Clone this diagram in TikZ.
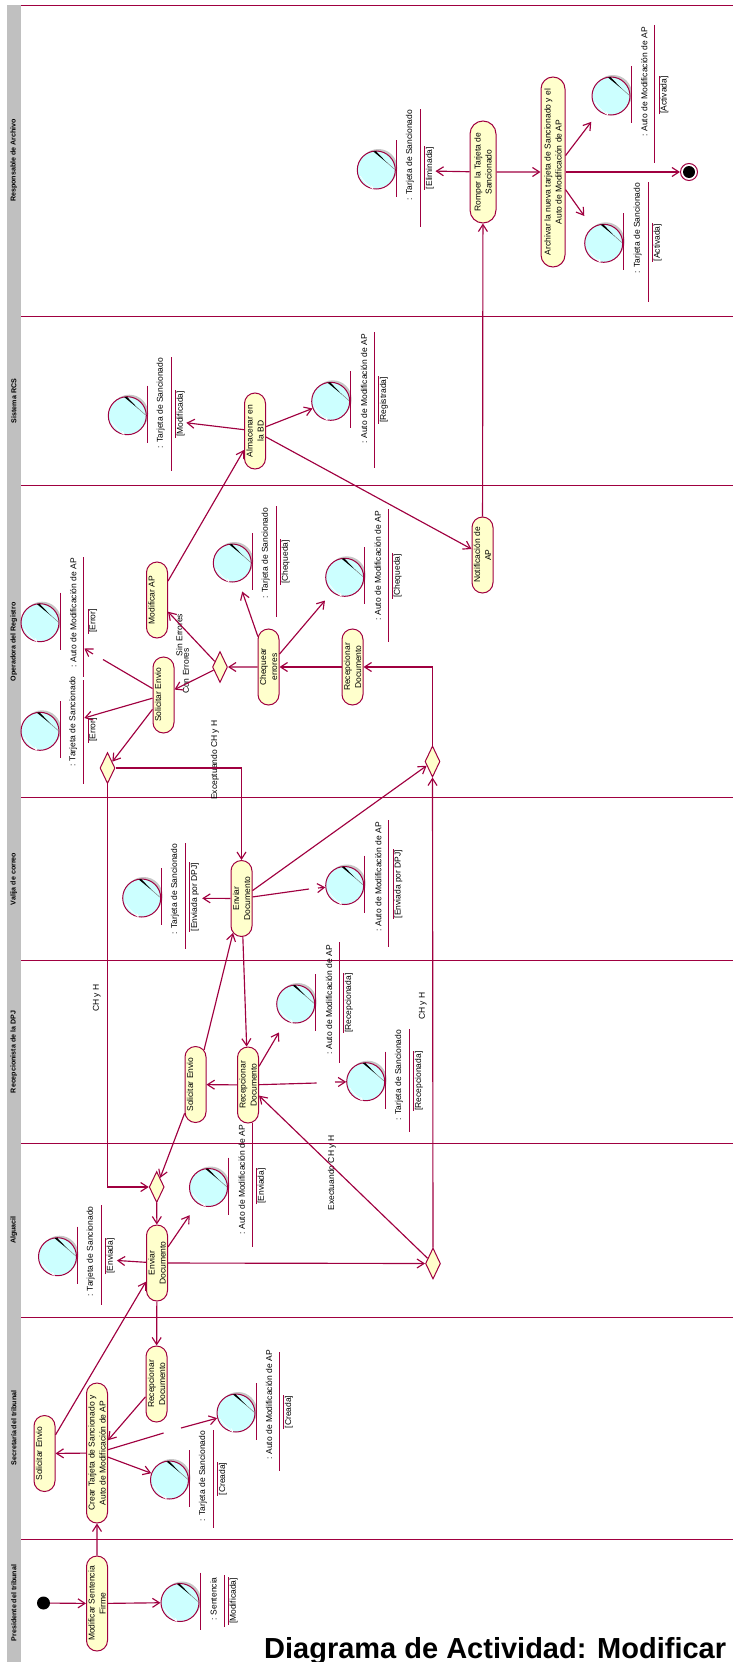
\documentclass[tikz,border=0pt]{standalone}
\usepackage{fontspec}
\setmainfont{Liberation Sans}
\usetikzlibrary{arrows.meta,shapes.misc,shapes.geometric,shadows}
\definecolor{rosered}{HTML}{A00040}
\definecolor{roseyellow}{HTML}{FFFFCC}
\definecolor{rosecyan}{HTML}{CCFFFF}
\definecolor{rosegray}{HTML}{C0C0C0}

\begin{document}
\begin{tikzpicture}[x=1pt,y=-1pt,
  lane/.style={draw=rosered,line width=0.85pt},
  lanename/.style={rotate=90,font=\fontsize{7.1}{8}\selectfont\bfseries},
  activity/.style={rounded rectangle,draw=rosered,fill=roseyellow,line width=1pt,rotate=90,
    inner sep=0pt,minimum height=21pt,minimum width=76pt,align=center,
    font=\fontsize{8.5}{11}\selectfont},
  choice/.style={diamond,aspect=0.5,draw=rosered,fill=roseyellow,line width=1pt,
    inner sep=0pt,minimum width=15pt,minimum height=31pt},
  object/.style={circle,draw=rosered,fill=rosecyan,line width=1pt,inner sep=0pt,minimum size=38pt,
    drop shadow={shadow xshift=2pt,shadow yshift=2pt,fill=black!22,opacity=1}},
  objname/.style={rotate=90,inner sep=0pt,font=\fontsize{8.5}{11}\selectfont},
  objstate/.style={rotate=90,inner xsep=0.5pt,inner ysep=1.2pt,font=\fontsize{8.5}{11}\selectfont},
  guard/.style={rotate=90,inner sep=0pt,font=\fontsize{8.5}{11}\selectfont},
  flow/.style={draw=rosered,line width=1.15pt,-{Straight Barb[length=7pt,width=9pt]}},
  flowpart/.style={draw=rosered,line width=1.15pt}]
  \useasboundingbox (0,0) rectangle (733,1662);

  \fill [rosegray] (7,5) rectangle (21,1662);
  \foreach \y in {5.3,316.5,485.3,797.5,960.3,1143.3,1317.5,1539.3}
    \draw [lane] (21,\y) -- (733,\y);
  \foreach \n/\lab/\y in {l1/Responsable de Archivo/160.5,l2/Sistema RCS/401,l3/Operadora del Registro/642,
      l4/Valija de correo/879,l5/Recepcionista de la DPJ/1052,l6/Alguacil/1230,
      l7/Secretaría del tribunal/1428,l8/Presidente del tribunal/1603}
    \node [lanename] (\n) at (13.8,\y) {\lab};

  \node [activity,minimum width=95pt] (modif) at (97,1603.5) {Modificar Sentencia\\Firme};
  \node [activity,minimum width=140pt] (crear) at (97,1453) {Crear Tarjeta de Sancionado y\\Auto de Modificación de AP};
  \node [activity] (solsec) at (44.5,1453.5) {Solicitar Envio\\~};
  \node [activity] (recsec) at (156.5,1384) {Recepcionar\\Documento};
  \node [activity] (envalg) at (157,1263) {Enviar\\Documento};
  \node [activity] (soldpj) at (195.5,1084.5) {Solicitar Envio\\~};
  \node [activity] (recdpj) at (248,1085) {Recepcionar\\Documento};
  \node [activity] (envval) at (241.5,898.5) {Enviar\\Documento};
  \node [activity] (recope) at (352.5,667) {Recepcionar\\Documento};
  \node [activity] (cheq) at (268.5,667) {Chequear\\errores};
  \node [activity] (solope) at (163.5,695) {Solicitar Envio\\~};
  \node [activity] (modap) at (157,600) {Modificar AP\\~};
  \node [activity] (notif) at (482.5,555) {Notificación de\\AP};
  \node [activity] (alma) at (255,431) {Almacenar en\\la BD};
  \node [activity,minimum width=102pt,minimum height=26pt] (romper) at (483,172) {Romper la Tarjeta de\\Sancionado};
  \node [activity,minimum width=190pt,minimum height=24pt] (arch) at (553,172) {Archivar la nueva tarjeta de Sancionado y el\\Auto de Modificación de AP};

  \node [choice] (dalg) at (156.7,1187) {};
  \node [choice] (drec) at (433,1263.5) {};
  \node [choice] (dchk) at (220,667) {};
  \node [choice] (dsol) at (107.5,768) {};
  \node [choice] (dent) at (432.5,761.5) {};

  \node [circle,fill=black,inner sep=0pt,minimum size=13pt] (start) at (43.5,1603) {};
  \node [circle,draw=rosered,line width=1pt,inner sep=0pt,minimum size=17pt] (end) at (689,172) {};
  \fill [black] (end.center) circle (6pt);

  \foreach \n/\cx/\cy/\txt/\tx/\ty/\ya/\yb/\stat/\sy in {
      osent/180/1602.5/{: Sentencia}/213.6/1599/1575/1627/[Modificada]/1601,
      otcre/169.5/1480/{: Tarjeta de Sancionado}/203/1476/1430/1528/[Creada]/1479,
      oacre/236/1413/{: Auto de Modificación de AP}/269/1405/1352/1471/[Creada]/1412,
      otenv/57.5/1256.7/{: Tarjeta de Sancionado}/90.7/1251.5/1205/1305/[Enviada]/1256,
      oaenv/208.5/1187.5/{: Auto de Modificación de AP}/241.7/1180/1123/1247/[Enviada]/1186,
      otrec/365.7/1081.7/{: Tarjeta de Sancionado}/399/1075/1029/1132/[Recepcionada]/1081,
      oarec/295.7/1004/{: Auto de Modificación de AP}/329/1000/942/1063/[Recepcionada]/1003,
      otdpj/141.7/898/{: Tarjeta de Sancionado}/175/889/843/949/[Enviada por DPJ]/897,
      oadpj/344.7/885.5/{: Auto de Modificación de AP}/378.3/877/820/947/[Enviada por DPJ]/884,
      oaerr/40/622.7/{: Auto de Modificación de AP}/73.3/613/557/677/[Error]/621,
      oterr/40/731.3/{: Tarjeta de Sancionado}/73.3/721.5/680/784/[Error]/730,
      otche/232.3/563/{: Tarjeta de Sancionado}/265.7/553/506/617/[Chequeda]/562,
      oache/344.7/577.3/{: Auto de Modificación de AP}/377.7/566/509/642/[Chequeda]/576,
      otmod/127.3/415.7/{: Tarjeta de Sancionado}/160.7/403/357/471/[Modificada]/414,
      oareg/330.7/401.3/{: Auto de Modificación de AP}/364/389/332/468/[Registrada]/400,
      otel/376.3/170/{: Tarjeta de Sancionado}/410/155/109/227/[Eliminada]/168,
      otact/603.7/243.3/{: Tarjeta de Sancionado}/637.7/228/182/302/[Activada]/242.6,
      oaact/611/96/{: Auto de Modificación de AP}/644.3/82/25/163/[Activada]/95}
  {
    \node [object] (\n) at (\cx,\cy) {};
    \fill [black] ([shift={(-3,-18.5)}]\n.center) -- ([shift={(-0.5,-19)}]\n.center) -- ([shift={(11,-7)}]\n.center) -- cycle;
    \draw [gray,line width=0.5pt] ([shift={(10,-8)}]\n.center) -- ([shift={(18.3,-0.7)}]\n.center);
    \draw [white,line width=0.7pt] ([shift={(-16,6)}]\n.center) .. controls +(3,6) and +(7,9) .. ([shift={(-5,15.5)}]\n.center);
    \draw [lane] ([shift={(20,-30)}]\n.center) -- ([shift={(20,27)}]\n.center);
    \node [objname] (\n name) at (\tx,\ty) {\txt};
    \draw [lane] (\tx+10.5,\ya) -- (\tx+10.5,\yb);
    \node [objstate] (\n stat) at (\tx+20,\sy) {\stat};
    \draw [lane] (\n stat.north west) -- (\n stat.north east);
  }

  \node [guard] (gexc) at (215,760) {Exceptuando CH y H};
  \node [guard] (gchb) at (96.7,998) {CH y H};
  \node [guard] (gchd) at (422.7,1006) {CH y H};
  \node [guard] (gejc) at (332,1173) {Exectuando CH y H};
  \node [guard] (gsin) at (179.3,635) {Sin Errores};
  \node [guard] (gcon) at (186,671) {Con Errores};

  \foreach \a/\b in {start/modif,modif/osent,modif/crear,crear/solsec,crear/otcre,recsec/crear,
      solsec/envalg,envalg/recsec,envalg/drec,drec/recdpj,drec/dent,soldpj/dalg,dalg/envalg,
      recdpj/soldpj,soldpj/envval,envval/recdpj,envval/dent,recope/cheq,cheq/dchk,dchk/modap,
      dchk/solope,solope/dsol,modap/alma,alma/oareg,alma/notif,notif/romper,romper/arch,arch/end}
    \draw [flow] (\a) -- (\b);

  \draw [flow] (dsol) |- (dalg);
  \draw [flow] (dsol) -| (envval);
  \draw [flow] (dent) |- (recope);

  \foreach \a/\b/\gap in {envalg/otenv/40,envalg/oaenv/14,recdpj/oarec/13.5,envval/otdpj/41,
      cheq/otche/10.7,cheq/oache/11,alma/otmod/40,romper/otel/39.7,arch/oaact/13,arch/otact/14}
    \draw [flow,shorten >=\gap pt] (\a) -- (\b);

  \coordinate (cutcrear) at (163.6,1433);
  \coordinate (backcrear) at (181,1428);
  \draw [flowpart] (crear) -- (cutcrear);
  \draw [flow] (backcrear) -- (oacre);
  \coordinate (cutrec) at (316.7,1083);
  \coordinate (backrec) at (335,1082);
  \draw [flowpart] (recdpj) -- (cutrec);
  \draw [flow] (backrec) -- (otrec);
  \coordinate (cutval) at (309,889);
  \coordinate (backval) at (318,888);
  \draw [flowpart] (envval) -- (cutval);
  \draw [flow] (backval) -- (oadpj);
  \coordinate (cutsol) at (103,659.5);
  \coordinate (backsol) at (93,654);
  \coordinate (tipsol) at (84.3,648.5);
  \draw [flowpart] (solope) -- (cutsol);
  \draw [flow] (backsol) -- (tipsol);
  \coordinate (cuterr) at (97.7,714);
  \coordinate (tiperr) at (84.3,718);
  \draw [flowpart] (solope) -- (cuterr);
  \draw [flow] (cuterr) -- (tiperr);

  \node [anchor=base west,inner sep=0pt,font=\fontsize{29}{32}\selectfont\bfseries] (title) at (264,1658) {Diagrama de Actividad: Modificar};
\end{tikzpicture}
\end{document}
